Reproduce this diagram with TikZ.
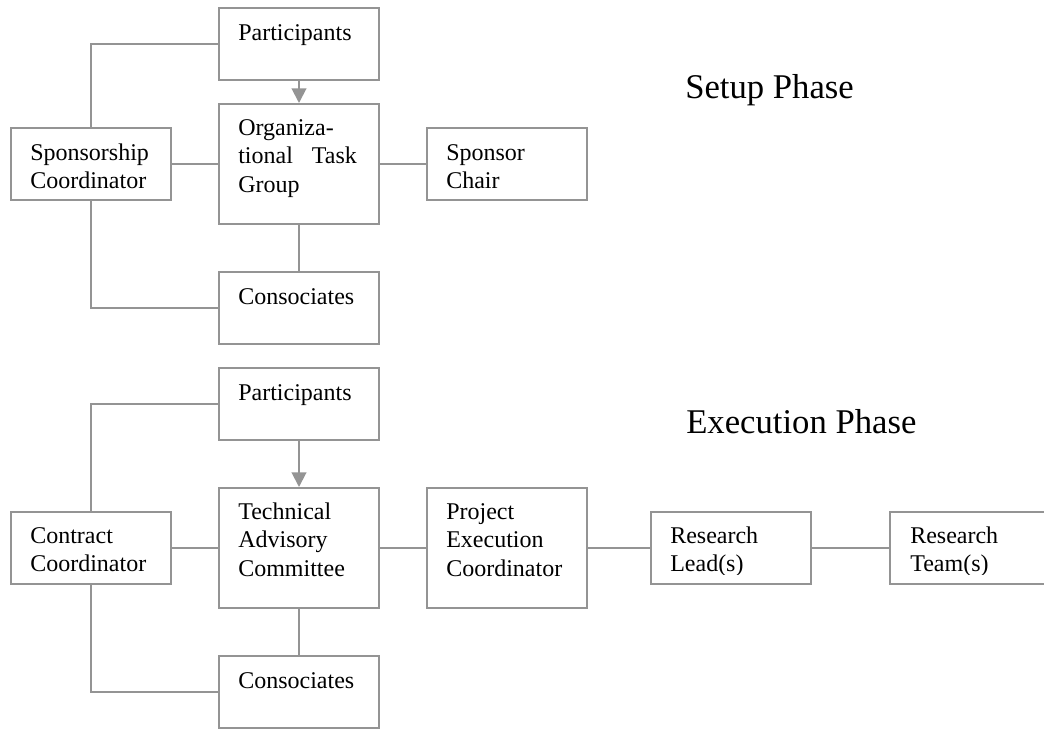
\documentclass[tikz,border=0pt]{standalone}
\usepackage{fontspec}
\setmainfont{Liberation Serif}
\usetikzlibrary{arrows.meta,calc}
\definecolor{lg}{RGB}{148,148,148}
\newcommand\ml[1]{\parbox[t]{112pt}{\raggedright #1}}
\begin{document}
\begin{tikzpicture}[x=0.75pt,y=-0.75pt,
  box/.style={draw=lg, line width=1.5pt, anchor=north west, inner sep=0pt, minimum width=120pt, minimum height=54pt},
  tall/.style={box, minimum height=90pt},
  lbl/.style={anchor=base west, inner sep=0pt, font=\fontsize{18pt}{21.4pt}\selectfont, text=black},
  phase/.style={anchor=base west, inner sep=0pt, font=\fontsize{26pt}{31pt}\selectfont, text=black},
  link/.style={draw=lg, line width=1.5pt},
  arr/.style={link, -{Triangle[length=11pt,width=11pt]}}]
\useasboundingbox (0,0) rectangle (1044,728);
\clip (0,0) rectangle (1044,728);

% ---------- Setup phase ----------
\node[box]  (p1)  at (218,7)   {};
\node[tall] (otg) at (218,103) {};
\node[box]  (sc)  at (10,127)  {};
\node[box]  (sch) at (426,127) {};
\node[box]  (c1)  at (218,271) {};

\node[lbl] (p1t)  at (238,40)  {Participants};
\node[lbl] (otgt) at (238,135) {\ml{Organiza-\\\makebox[89pt][s]{tional Task}\\Group}};
\node[lbl] (sct)  at (30,160)  {\ml{Sponsorship\\Coordinator}};
\node[lbl] (scht) at (446,160) {\ml{Sponsor\\Chair}};
\node[lbl] (c1t)  at (238,304) {Consociates};

\node[phase] (setup) at (685,98) {Setup Phase};

\draw[link] (sc.north) |- (p1.west);
\draw[link] (sc.south) |- (c1.west);
\draw[link] (sc.east) -- (otg.west);
\draw[link] (otg.east) -- (sch.west);
\draw[link] (otg.south) -- (c1.north);
\draw[arr]  (p1.south) -- (otg.north);

% ---------- Execution phase ----------
\node[box]  (p2)  at (218,367) {};
\node[tall] (tac) at (218,487) {};
\node[box]  (cc)  at (10,511)  {};
\node[tall] (pec) at (426,487) {};
\node[box]  (rl)  at (650,511) {};
\node[box]  (rt)  at (889,511) {};
\node[box]  (c2)  at (218,655) {};

\node[lbl] (p2t)  at (238,400) {Participants};
\node[lbl] (tact) at (238,519) {\ml{Technical\\Advisory\\Committee}};
\node[lbl] (cct)  at (30,543)  {\ml{Contract\\Coordinator}};
\node[lbl] (pect) at (446,519) {\ml{Project\\Execution\\Coordinator}};
\node[lbl] (c2t)  at (238,688) {Consociates};
\begin{scope}
  \clip (650,511) rectangle (1044,574);
  \node[lbl] (rlt) at (670,543) {\ml{Research\\Lead(s)}};
  \node[lbl] (rtt) at (910,543) {\ml{Research\\Team(s)}};
\end{scope}

\node[phase] (exec) at (686,433) {Execution Phase};

\draw[link] (cc.north) |- (p2.west);
\draw[link] (cc.south) |- (c2.west);
\draw[link] (cc.east) -- (tac.west);
\draw[link] (tac.east) -- (pec.west);
\draw[link] (pec.east) -- (rl.west);
\draw[link] (rl.east) -- (rt.west);
\draw[link] (tac.south) -- (c2.north);
\draw[arr]  (p2.south) -- (tac.north);
\end{tikzpicture}
\end{document}
